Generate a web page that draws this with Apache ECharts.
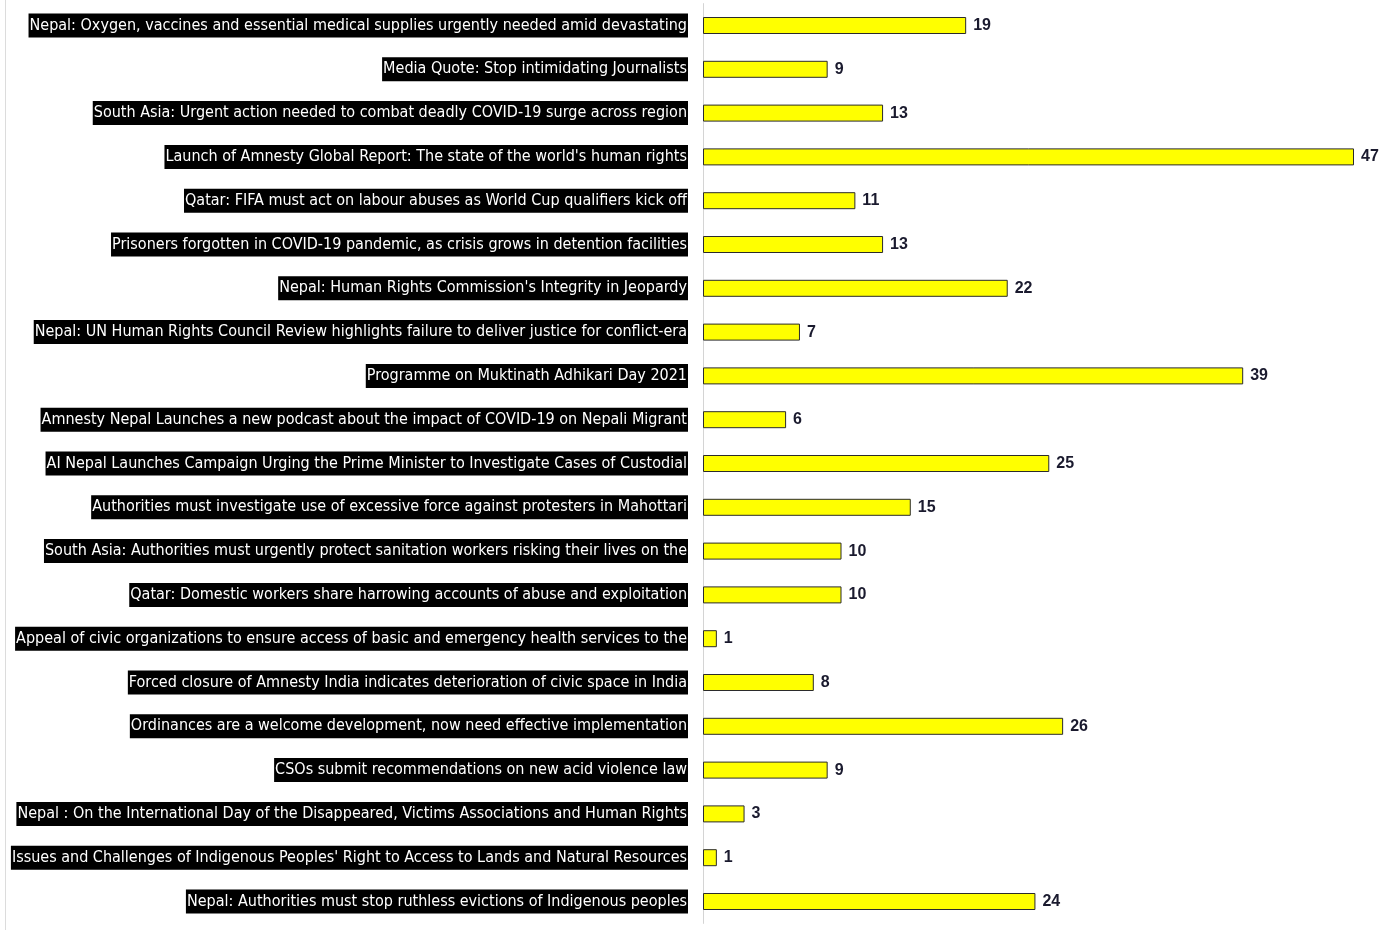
<!DOCTYPE html>
<html>
<head>
<meta charset="utf-8">
<script src="https://cdn.jsdelivr.net/npm/echarts@6/dist/echarts.min.js"></script>
<style>
  html, body { margin: 0; padding: 0; background: #fff; }
  #chart { width: 1380px; height: 930px; }
  #border { position: absolute; left: 5px; top: 0; width: 1px; height: 930px; background: #dcdcdc; z-index: 2; }
</style>
</head>
<body>
<div id="border"></div>
<div id="chart"></div>
<script>
const categories = [
  "Nepal: Oxygen, vaccines and essential medical supplies urgently needed amid devastating",
  "Media Quote: Stop intimidating Journalists",
  "South Asia: Urgent action needed to combat deadly COVID-19 surge across region",
  "Launch of Amnesty Global Report: The state of the world's human rights",
  "Qatar: FIFA must act on labour abuses as World Cup qualifiers kick off",
  "Prisoners forgotten in COVID-19 pandemic, as crisis grows in detention facilities",
  "Nepal: Human Rights Commission's Integrity in Jeopardy",
  "Nepal: UN Human Rights Council Review highlights failure to deliver justice for conflict-era",
  "Programme on Muktinath Adhikari Day 2021",
  "Amnesty Nepal Launches a new podcast about the impact of COVID-19 on Nepali Migrant",
  "AI Nepal Launches Campaign Urging the Prime Minister to Investigate Cases of Custodial",
  "Authorities must investigate use of excessive force against protesters in Mahottari",
  "South Asia: Authorities must urgently protect sanitation workers risking their lives on the",
  "Qatar: Domestic workers share harrowing accounts of abuse and exploitation",
  "Appeal of civic organizations to ensure access of basic and emergency health services to the",
  "Forced closure of Amnesty India indicates deterioration of civic space in India",
  "Ordinances are a welcome development, now need effective implementation",
  "CSOs submit recommendations on new acid violence law",
  "Nepal : On the International Day of the Disappeared, Victims Associations and Human Rights",
  "Issues and Challenges of Indigenous Peoples' Right to Access to Lands and Natural Resources",
  "Nepal: Authorities must stop ruthless evictions of Indigenous peoples"
];
const values = [19, 9, 13, 47, 11, 13, 22, 7, 39, 6, 25, 15, 10, 10, 1, 8, 26, 9, 3, 1, 24];

const chart = echarts.init(document.getElementById('chart'), null, { renderer: 'canvas' });
chart.setOption({
  animation: false,
  backgroundColor: '#ffffff',
  grid: { left: 703, right: 26, top: 3.6, bottom: 6.6, containLabel: false, outerBoundsMode: 'none' },
  xAxis: {
    type: 'value',
    min: 0,
    max: 47,
    show: false
  },
  yAxis: {
    type: 'category',
    data: categories,
    inverse: true,
    axisLine: { show: true, lineStyle: { color: '#d4d4d4', width: 1 } },
    axisTick: { show: false },
    splitLine: { show: false },
    axisLabel: {
      margin: 15,
      color: '#ffffff',
      backgroundColor: '#000000',
      padding: [3, 1, 2, 1],
      fontFamily: "'DejaVu Sans Condensed', 'Liberation Sans Narrow', sans-serif",
      fontSize: 16,
      lineHeight: 19
    }
  },
  series: [{
    type: 'bar',
    data: values,
    barWidth: 17,
    itemStyle: { color: '#ffff00', borderColor: '#2b2b2b', borderWidth: 1 },
    label: {
      show: true,
      position: 'right',
      distance: 7,
      color: '#1a1a2e',
      fontWeight: 'bold',
      fontSize: 16,
      fontFamily: "'Liberation Sans', Arial, sans-serif"
    }
  }]
});
</script>
</body>
</html>
